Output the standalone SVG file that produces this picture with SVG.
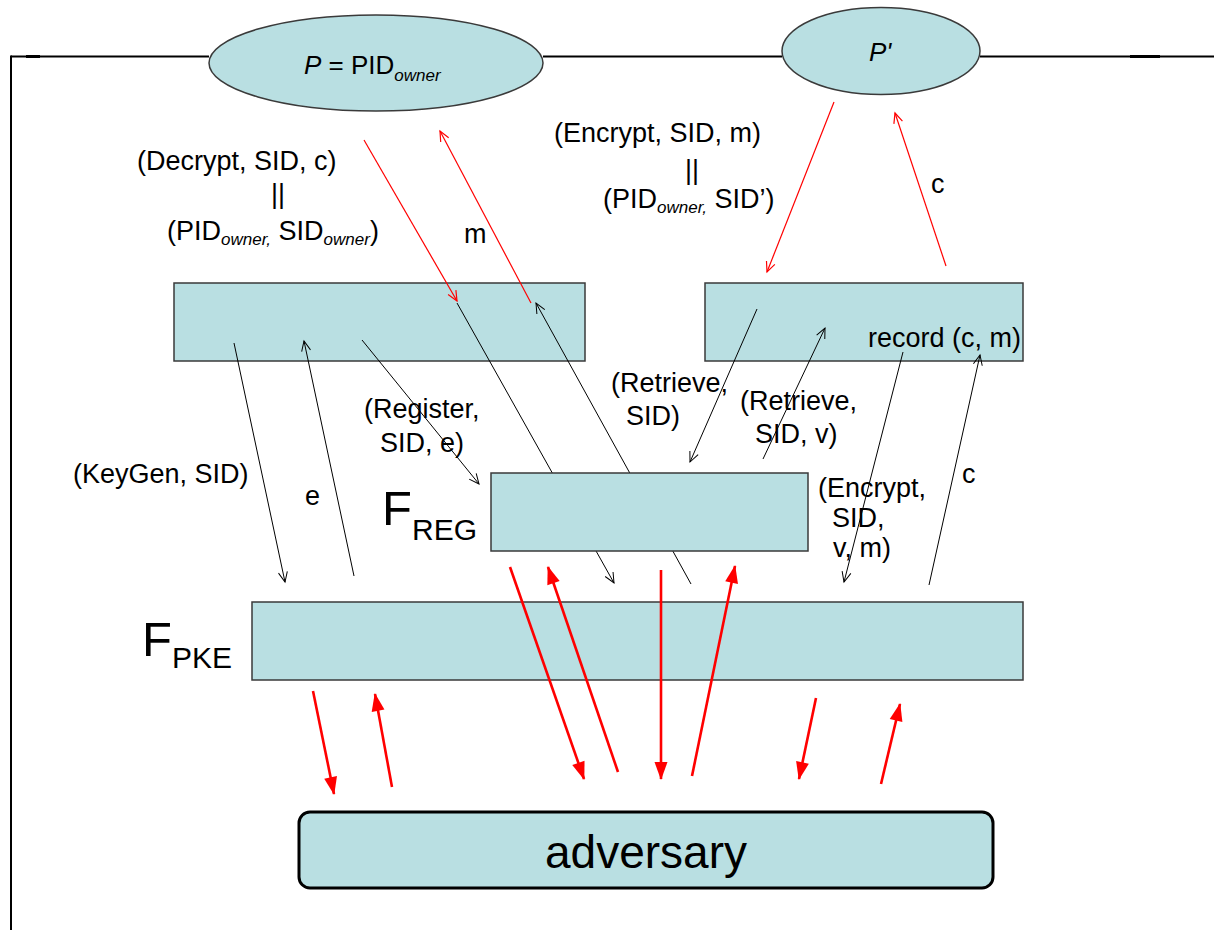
<svg xmlns="http://www.w3.org/2000/svg" width="1214" height="930" viewBox="0 0 1214 930">
<style>
text{font-family:"Liberation Sans",Arial,sans-serif;fill:#000}
.lbl{font-size:27px}
.sub{font-size:17px;font-style:italic}
.node{fill:#b9dfe2;stroke:#3a3a3a;stroke-width:1.5}
.frame{fill:none;stroke:#000;stroke-width:2}
.thin{fill:none;stroke:#000;stroke-width:1}
.thinr{fill:none;stroke:#ff0000;stroke-width:1.2}
.thick{fill:none;stroke:#ff0000;stroke-width:2.6}
</style>
<defs>
<marker id="ob" viewBox="-12 -6 14 12" refX="0" refY="0" markerWidth="14" markerHeight="12" markerUnits="userSpaceOnUse" orient="auto"><path d="M-10,-4.5 L0,0 L-10,4.5" fill="none" stroke="#000" stroke-width="1"/></marker>
<marker id="or" viewBox="-12 -6 14 12" refX="0" refY="0" markerWidth="14" markerHeight="12" markerUnits="userSpaceOnUse" orient="auto"><path d="M-10,-4.5 L0,0 L-10,4.5" fill="none" stroke="#ff0000" stroke-width="1.2"/></marker>
<marker id="rf" viewBox="-20 -8 24 16" refX="0" refY="0" markerWidth="24" markerHeight="16" markerUnits="userSpaceOnUse" orient="auto"><path d="M-17,-6.5 L1,0 L-17,6.5 z" fill="#ff0000"/></marker>
</defs>

<g id="frame">
<line class="frame" x1="11" y1="56.5" x2="209" y2="56.5"/>
<line class="frame" x1="543" y1="56.5" x2="782" y2="56.5"/>
<line class="frame" x1="980" y1="56.5" x2="1214" y2="56.5"/>
<line class="frame" x1="11" y1="55.5" x2="11" y2="930"/>
<line x1="26" y1="56.5" x2="40" y2="56.5" stroke="#000" stroke-width="3"/>
<line x1="1130" y1="56.5" x2="1160" y2="56.5" stroke="#000" stroke-width="3"/>
</g>

<g id="P">
<ellipse class="node" cx="376" cy="63" rx="167" ry="48" stroke="#000"/>
<text x="304" y="74" font-size="26"><tspan font-style="italic">P</tspan> = PID<tspan class="sub" font-size="19" dy="7">owner</tspan></text>
</g>

<g id="Pprime">
<ellipse class="node" cx="881" cy="51" rx="99" ry="43.5" stroke="#000"/>
<text x="869" y="61" font-size="26" font-style="italic">P'</text>
</g>

<g id="boxA">
<rect class="node" x="174" y="283" width="411" height="78"/>
</g>

<g id="boxB">
<rect class="node" x="705" y="283" width="318" height="78"/>
<text class="lbl" x="868" y="347">record (c, m)</text>
</g>

<g id="FPKE">
<rect class="node" x="252" y="602" width="771" height="78"/>
<text x="142" y="656" font-size="49">F</text>
<text x="172" y="668" font-size="30">PKE</text>
</g>

<g id="connectors">
<!-- red thin, top -->
<line class="thinr" x1="364" y1="140" x2="457" y2="301" marker-end="url(#or)"/>
<line class="thinr" x1="531" y1="303" x2="440" y2="131" marker-end="url(#or)"/>
<line class="thinr" x1="834" y1="102" x2="767" y2="272" marker-end="url(#or)"/>
<line class="thinr" x1="946" y1="266" x2="895" y2="113" marker-end="url(#or)"/>
<!-- black thin -->
<line class="thin" x1="234" y1="343" x2="285" y2="582" marker-end="url(#ob)"/>
<line class="thin" x1="354" y1="576" x2="304" y2="341" marker-end="url(#ob)"/>
<line class="thin" x1="362" y1="340" x2="479" y2="484" marker-end="url(#ob)"/>
<line class="thin" x1="457" y1="303" x2="614" y2="583" marker-end="url(#ob)"/>
<line class="thin" x1="691" y1="584" x2="536" y2="303" marker-end="url(#ob)"/>
<line class="thin" x1="757" y1="309" x2="690" y2="462" marker-end="url(#ob)"/>
<line class="thin" x1="763" y1="459" x2="825" y2="328" marker-end="url(#ob)"/>
<line class="thin" x1="903" y1="352" x2="844" y2="582" marker-end="url(#ob)"/>
<line class="thin" x1="929" y1="585" x2="980" y2="355" marker-end="url(#ob)"/>
<!-- red thick -->
<line class="thick" x1="313" y1="691" x2="334" y2="794" marker-end="url(#rf)"/>
<line class="thick" x1="392" y1="787" x2="375" y2="694" marker-end="url(#rf)"/>
<line class="thick" x1="510" y1="567" x2="584" y2="779" marker-end="url(#rf)"/>
<line class="thick" x1="618" y1="772" x2="548" y2="567" marker-end="url(#rf)"/>
<line class="thick" x1="661" y1="570" x2="661" y2="779" marker-end="url(#rf)"/>
<line class="thick" x1="692" y1="776" x2="735" y2="566" marker-end="url(#rf)"/>
<line class="thick" x1="816" y1="698" x2="799" y2="779" marker-end="url(#rf)"/>
<line class="thick" x1="881" y1="784" x2="900" y2="704" marker-end="url(#rf)"/>
</g>

<g id="labels">
<text class="lbl" x="137" y="170">(Decrypt, SID, c)</text>
<text class="lbl" x="278" y="203" text-anchor="middle">||</text>
<text class="lbl" x="167" y="240">(PID<tspan class="sub" dy="5">owner,</tspan><tspan dy="-5"> SID</tspan><tspan class="sub" dy="5">owner</tspan><tspan dy="-5">)</tspan></text>
<text class="lbl" x="464" y="243">m</text>
<text class="lbl" x="554" y="142">(Encrypt, SID, m)</text>
<text class="lbl" x="692" y="179" text-anchor="middle">||</text>
<text class="lbl" x="603" y="208">(PID<tspan class="sub" dy="5">owner,</tspan><tspan dy="-5"> SID’)</tspan></text>
<text class="lbl" x="931" y="193">c</text>
<text class="lbl" x="611" y="392">(Retrieve,</text>
<text class="lbl" x="626" y="425">SID)</text>
<text class="lbl" x="740" y="410">(Retrieve,</text>
<text class="lbl" x="755" y="443">SID, v)</text>
<text class="lbl" x="364" y="418">(Register,</text>
<text class="lbl" x="380" y="452">SID, e)</text>
<text class="lbl" x="73" y="483">(KeyGen, SID)</text>
<text class="lbl" x="305" y="505">e</text>
<text class="lbl" x="818" y="497">(Encrypt,</text>
<text class="lbl" x="832" y="527">SID,</text>
<text class="lbl" x="833" y="557">v, m)</text>
<text class="lbl" x="962" y="483">c</text>
</g>

<g id="FREG">
<rect class="node" x="491" y="473" width="317" height="78"/>
<text x="382" y="525" font-size="49">F</text>
<text x="412" y="540" font-size="30">REG</text>
</g>

<g id="adversary">
<rect x="299" y="812" width="694" height="76" rx="11" ry="11" fill="#b9dfe2" stroke="#000" stroke-width="3"/>
<text x="646" y="868" font-size="46" text-anchor="middle">adversary</text>
</g>
</svg>
